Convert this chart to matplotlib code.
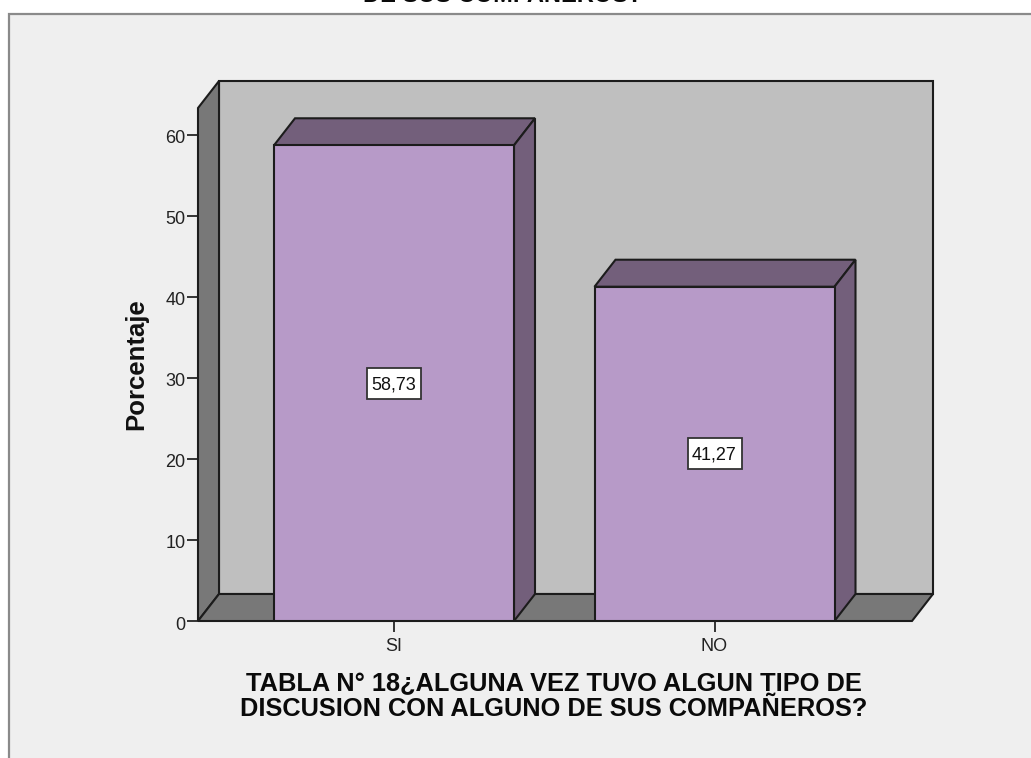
import matplotlib
matplotlib.use("Agg")
import matplotlib.pyplot as plt
from matplotlib.patches import Polygon, Rectangle
from matplotlib.transforms import ScaledTranslation

plt.rcParams["font.family"] = ["Liberation Sans", "DejaVu Sans"]

categories = ["SI", "NO"]
percent = [58.73, 41.27]
percent_labels = ["58,73", "41,27"]
y_ticks = [0, 10, 20, 30, 40, 50, 60]

W, H = 1031, 758
EDGE = "#1c1c1c"
BAR = "#b79ac8"
BAR_DARK = "#735f7b"
WALL = "#bfbfbf"
WALL_DARK = "#787878"
PANEL = "#efefef"

# 3D extrusion of the walls and bars, in pixels
DEPTH_X, DEPTH_Y = 21, 27

fig = plt.figure(figsize=(W / 100, H / 100), dpi=100, facecolor="white")

# chart panel, runs off the right and bottom edges
panel = Rectangle((8.5 / W, -0.01), 1.1, 1 - 13.5 / H + 0.01, transform=fig.transFigure,
                  fc=PANEL, ec="#8a8a8a", lw=1.6, zorder=-1)
fig.add_artist(panel)

ax = fig.add_axes([198 / W, 1 - 621 / H, 714 / W, 513 / H], zorder=2)
ax.patch.set_visible(False)
for s in ax.spines.values():
    s.set_visible(False)

px_per_unit = 8.1
px_per_cat = 320.5
ax.set_ylim(0, 513 / px_per_unit)
ax.set_xlim(-196 / px_per_cat, 1 + 197.5 / px_per_cat)

dx = DEPTH_X / px_per_cat
dy = DEPTH_Y / px_per_unit
x0, x1 = ax.get_xlim()
y0, y1 = ax.get_ylim()


def face(points, color, z):
    ax.add_patch(Polygon(points, closed=True, fc=color, ec=EDGE, lw=1.5, zorder=z,
                         joinstyle="miter", clip_on=False))


# back wall, side wall, floor
face([(x0 + dx, y0 + dy), (x1 + dx, y0 + dy), (x1 + dx, y1 + dy), (x0 + dx, y1 + dy)], WALL, 1)
face([(x0, y0), (x0 + dx, y0 + dy), (x0 + dx, y1 + dy), (x0, y1)], WALL_DARK, 2)
face([(x0, y0), (x1, y0), (x1 + dx, y0 + dy), (x0 + dx, y0 + dy)], WALL_DARK, 2)

bar_width = 240 / px_per_cat
xs = list(range(len(categories)))
bars = ax.bar(xs, percent, width=bar_width, color=BAR, edgecolor=EDGE, linewidth=1.5, zorder=5)
box_w = 54 / px_per_cat
box_h = 31 / px_per_unit
for b, lab in zip(bars, percent_labels):
    l, r, top = b.get_x(), b.get_x() + b.get_width(), b.get_height()
    face([(l, top), (r, top), (r + dx, top + dy), (l + dx, top + dy)], BAR_DARK, 4)
    face([(r, 0), (r + dx, dy), (r + dx, top + dy), (r, top)], BAR_DARK, 4)
    xc, yc = (l + r) / 2, top / 2
    ax.add_patch(Rectangle((xc - box_w / 2, yc - box_h / 2), box_w, box_h, fc="white", ec="#333333", lw=1.3, zorder=6))
    ax.text(xc, yc - 1.5 / px_per_unit, lab, ha="center", va="center", fontsize=13, color="#111111", zorder=7)

ax.set_xticks(xs, categories)
ax.set_yticks(y_ticks)
ax.tick_params(axis="both", length=8, width=1.4, color="#333333", labelsize=13, labelcolor="#222222")
ax.tick_params(axis="y", pad=1)
ax.tick_params(axis="x", pad=4)
ax.set_ylabel("Porcentaje", fontsize=18.5, fontweight="bold", color="#111111", labelpad=12)

# y tick labels sit slightly below their ticks
nudge = ScaledTranslation(0, -2 / 100, fig.dpi_scale_trans)
for tl in ax.get_yticklabels():
    tl.set_transform(tl.get_transform() + nudge)

# axis title is centred under the plot
fig.text(554 / W, 1 - 696.5 / H, "TABLA N° 18¿ALGUNA VEZ TUVO ALGUN TIPO DE\nDISCUSION CON ALGUNO DE SUS COMPAÑEROS?",
         ha="center", va="center", fontsize=18.3, fontweight="bold", color="#0a0a0a", linespacing=1.0)

# chart title, only its lower edge is inside the canvas
fig.text(503 / W, 1 - 1.5 / H, "DE SUS COMPAÑEROS?", ha="center", va="baseline",
         fontsize=17, fontweight="bold", color="#0a0a0a")

fig.savefig("out.png", dpi=100, facecolor="white")
